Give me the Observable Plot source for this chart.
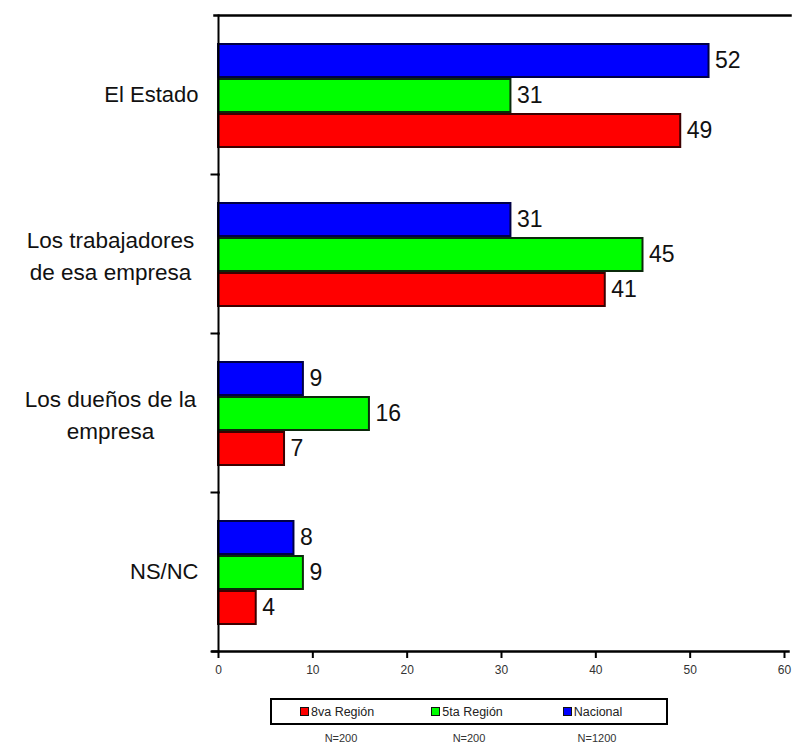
<!DOCTYPE html>
<html>
<head>
<meta charset="utf-8">
<script src="https://cdn.jsdelivr.net/npm/d3@7"></script>
<script src="https://cdn.jsdelivr.net/npm/@observablehq/plot@0.6"></script>
<style>
  html, body { margin: 0; padding: 0; background: white; }
  body { width: 792px; height: 745px; overflow: hidden; font-family: "Liberation Sans", Arial, sans-serif; }
  #legend { margin: 10px 0 0 270px; width: 394px; height: 23px; border: 2px solid #000; display: flex; align-items: center; font-size: 12.5px; color: #222; }
  .item { width: 136px; padding-left: 28px; box-sizing: border-box; display: flex; align-items: center; }
  .sw { width: 7px; height: 7px; border: 1px solid #111; margin-right: 2px; }
  #nrow { margin: 7px 0 0 277px; display: flex; font-size: 11px; color: #333; }
  #nrow div { width: 128px; text-align: center; }
</style>
</head>
<body>
<div id="chart"></div>
<div id="legend"></div>
<div id="nrow"></div>
<script>
const categories = ["El Estado", "Los trabajadores de esa empresa", "Los dueños de la empresa", "NS/NC"];
const categoryLabels = ["El Estado", "Los trabajadores\nde esa empresa", "Los dueños de la\nempresa", "NS/NC"];
const series = ["Nacional", "5ta Región", "8va Región"];
const nacional = [52, 31, 9, 8];
const quinta = [31, 45, 16, 9];
const octava = [49, 41, 7, 4];
const seriesColors = ["#0000ff", "#00ff00", "#ff0000"];
const seriesStrokes = ["#000046", "#0b2a0b", "#3c0000"];
const legendOrder = ["8va Región", "5ta Región", "Nacional"];
const legendN = ["N=200", "N=200", "N=1200"];
const xTicks = [0, 10, 20, 30, 40, 50, 60];

const values = [nacional, quinta, octava];
const data = [];
categories.forEach((c, ci) => series.forEach((s, si) => data.push({category: c, series: s, value: values[si][ci]})));
const labelData = categories.map((c, i) => ({category: c, label: categoryLabels[i]}));

const font = "Liberation Sans, Arial, sans-serif";

const chart = Plot.plot({
  width: 792,
  height: 688,
  marginLeft: 218,
  marginRight: 8,
  marginTop: 14,
  marginBottom: 36,
  style: {fontFamily: font, background: "white", overflow: "visible"},
  x: {domain: [0, 60], axis: null},
  fy: {domain: categories, padding: 0, axis: null},
  y: {domain: series, paddingInner: 0.06, paddingOuter: 0.74, align: 0.52, axis: null},
  marks: [
    ...series.map((s, i) => Plot.barX(data.filter(d => d.series === s), {
      fy: "category", y: "series", x: "value",
      fill: seriesColors[i], stroke: seriesStrokes[i], strokeWidth: 2
    })),
    Plot.text(data, {
      fy: "category", y: "series", x: "value", text: d => String(d.value),
      textAnchor: "start", dx: 6, fontSize: 23, fill: "#111"
    }),
    Plot.text(labelData.filter(d => !d.label.includes("\n")), {
      fy: "category", text: "label", frameAnchor: "left", dx: -20,
      textAnchor: "end", fontSize: 22, fill: "#111"
    }),
    Plot.text(labelData.filter(d => d.label.includes("\n")), {
      fy: "category", text: "label", frameAnchor: "left", dx: -108,
      textAnchor: "middle", fontSize: 22.5, lineHeight: 1.4, fill: "#111"
    }),
    Plot.frame({anchor: "left", strokeWidth: 2, stroke: "#000"}),
    Plot.frame({anchor: "bottom", insetLeft: -7, insetRight: 566, strokeWidth: 2, stroke: "#000"}),
    Plot.frame({anchor: "top", fy: categories[0], insetLeft: -4, insetRight: -6, strokeWidth: 2.5, stroke: "#000"}),
    Plot.frame({anchor: "bottom", fy: categories[3], insetLeft: -6, insetRight: -4, strokeWidth: 2.5, stroke: "#000"}),
    Plot.axisX({ticks: xTicks, tickSize: 7, tickPadding: 7, fontSize: 12, stroke: "#000", strokeWidth: 2, color: "#333", label: null})
  ]
});
document.getElementById("chart").appendChild(chart);

const legend = document.getElementById("legend");
legendOrder.forEach(name => {
  const i = series.indexOf(name);
  const item = document.createElement("div");
  item.className = "item";
  const sw = document.createElement("span");
  sw.className = "sw";
  sw.style.background = seriesColors[i];
  item.appendChild(sw);
  item.appendChild(document.createTextNode(name));
  legend.appendChild(item);
});
const nrow = document.getElementById("nrow");
legendN.forEach(t => {
  const d = document.createElement("div");
  d.textContent = t;
  nrow.appendChild(d);
});
</script>
</body>
</html>
